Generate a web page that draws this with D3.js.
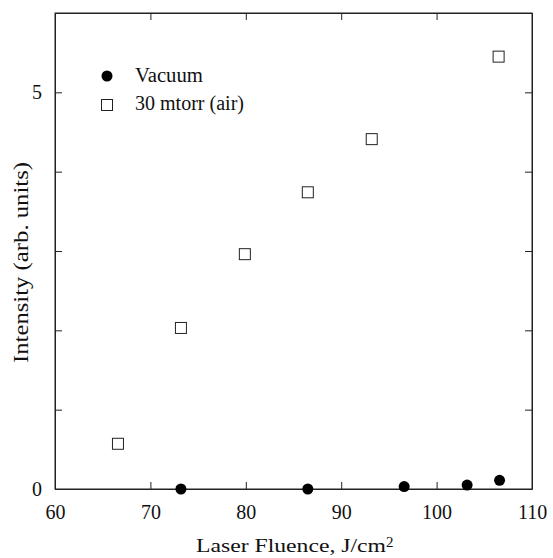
<!DOCTYPE html>
<html>
<head>
<meta charset="utf-8">
<script src="https://cdn.jsdelivr.net/npm/d3@7"></script>
<style>
  body { margin: 0; background: #fff; }
  text { font-family: "Liberation Serif", "Times New Roman", serif; fill: #111; }
</style>
</head>
<body>
<div id="chart"></div>
<script>
// data
var vacuumX = [73.2, 86.5, 96.6, 103.2, 106.6];
var vacuumY = [0.0, 0.0, 0.03, 0.05, 0.11];
var airX = [66.6, 73.2, 79.9, 86.5, 93.2, 106.5];
var airY = [0.57, 2.03, 2.96, 3.74, 4.41, 5.45];
var xTicks = [60, 70, 80, 90, 100, 110];
var yTicks = [0, 1, 2, 3, 4, 5, 6];
var yLabels = [0, 5];
var legendNames = ["Vacuum", "30 mtorr (air)"];

var width = 553, height = 558;
var margin = { left: 55, right: 21, top: 13, bottom: 69 };

var x = d3.scaleLinear().domain([60, 110]).range([margin.left, width - margin.right]);
var y = d3.scaleLinear().domain([0, 6]).range([height - margin.bottom, margin.top]);

var svg = d3.select("#chart").append("svg")
    .attr("width", width)
    .attr("height", height);

var stroke = "#222";

// frame
svg.append("rect")
    .attr("x", x(60)).attr("y", y(6))
    .attr("width", x(110) - x(60)).attr("height", y(0) - y(6))
    .attr("fill", "none").attr("stroke", stroke).attr("stroke-width", 1);

// inward ticks on all four sides
var tl = 7;
var axB = d3.axisBottom(x).tickValues(xTicks).tickSizeInner(-tl).tickSizeOuter(0).tickPadding(16)
    .tickFormat(d3.format("d"));
var gB = svg.append("g").attr("transform", "translate(0," + y(0) + ")").call(axB);
var axT = d3.axisTop(x).tickValues(xTicks).tickSizeInner(-tl).tickSizeOuter(0).tickFormat("");
var gT = svg.append("g").attr("transform", "translate(0," + y(6) + ")").call(axT);
var axL = d3.axisLeft(y).tickValues(yTicks).tickSizeInner(-tl).tickSizeOuter(0).tickPadding(13)
    .tickFormat(function (d) { return yLabels.indexOf(d) >= 0 ? d : ""; });
var gL = svg.append("g").attr("transform", "translate(" + x(60) + ",0)").call(axL);
var axR = d3.axisRight(y).tickValues(yTicks).tickSizeInner(-tl).tickSizeOuter(0).tickFormat("");
var gR = svg.append("g").attr("transform", "translate(" + x(110) + ",0)").call(axR);

[gB, gT, gL, gR].forEach(function (g) {
    g.select(".domain").attr("stroke", stroke);
    g.selectAll(".tick line").attr("stroke", stroke);
    g.selectAll(".tick text")
        .style("font-family", "'Liberation Serif', serif")
        .style("font-size", "20px")
        .attr("fill", "#111");
});

// series
svg.append("g").selectAll("rect")
    .data(airX.map(function (d, i) { return [d, airY[i]]; }))
    .enter().append("rect")
    .attr("x", function (d) { return x(d[0]) - 5.5; })
    .attr("y", function (d) { return y(d[1]) - 5.5; })
    .attr("width", 11).attr("height", 11)
    .attr("fill", "#fff").attr("stroke", stroke).attr("stroke-width", 1);

svg.append("g").selectAll("circle")
    .data(vacuumX.map(function (d, i) { return [d, vacuumY[i]]; }))
    .enter().append("circle")
    .attr("cx", function (d) { return x(d[0]); })
    .attr("cy", function (d) { return y(d[1]); })
    .attr("r", 5.5)
    .attr("fill", "#000");

// legend
var lg = svg.append("g").attr("transform", "translate(107,76)");
lg.append("circle").attr("cx", 0).attr("cy", 0).attr("r", 5.5).attr("fill", "#000");
lg.append("text").attr("x", 28).attr("y", 6)
    .attr("textLength", 68).attr("lengthAdjust", "spacingAndGlyphs")
    .style("font-size", "20px").text(legendNames[0]);
lg.append("rect").attr("x", -5.5).attr("y", 29 - 5.5).attr("width", 11).attr("height", 11)
    .attr("fill", "#fff").attr("stroke", stroke);
lg.append("text").attr("x", 28).attr("y", 34)
    .attr("textLength", 109).attr("lengthAdjust", "spacingAndGlyphs")
    .style("font-size", "20px").text(legendNames[1]);

// axis titles
var xt = svg.append("text")
    .attr("x", 196).attr("y", 552)
    .style("font-size", "19px");
xt.append("tspan").attr("textLength", 190).attr("lengthAdjust", "spacingAndGlyphs")
    .text("Laser Fluence, J/cm");
xt.append("tspan").attr("dy", -5).style("font-size", "15px").text("2");

svg.append("text")
    .attr("transform", "translate(28,363) rotate(-90)")
    .attr("textLength", 201).attr("lengthAdjust", "spacingAndGlyphs")
    .style("font-size", "20px")
    .text("Intensity (arb. units)");
</script>
</body>
</html>
